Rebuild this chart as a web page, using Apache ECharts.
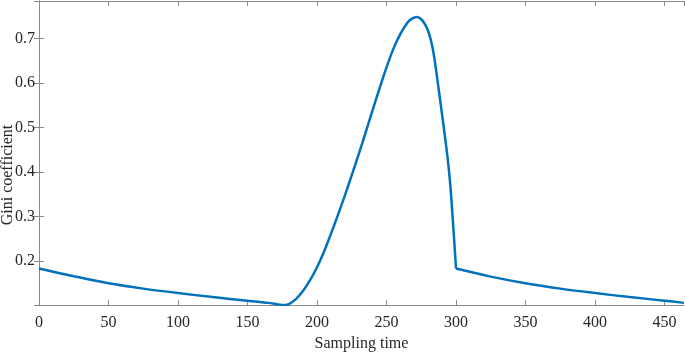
<!DOCTYPE html>
<html>
<head>
<meta charset="utf-8">
<script src="https://cdn.jsdelivr.net/npm/echarts@6/dist/echarts.min.js"></script>
<style>
  html, body { margin: 0; padding: 0; background: #fff; }
  #chart { width: 685px; height: 357px; }
</style>
</head>
<body>
<div id="chart"></div>
<script>
// 采样时刻与对应的基尼系数，300 处曲线有尖角，所以分两段
const riseTimes = [
  0, 25, 50, 75, 100, 125, 150, 165, 176,
  180, 185, 190, 195, 200, 205, 210, 215, 220, 225, 230, 235, 240, 245, 250,
  255, 260, 265, 268, 272, 275, 278, 280, 282, 284, 287, 290, 292, 294, 296, 298, 300
]
const riseValues = [
  0.183, 0.166, 0.150, 0.138, 0.128, 0.119, 0.111, 0.106, 0.101,
  0.104, 0.115, 0.133, 0.157, 0.186, 0.221, 0.261, 0.303, 0.347, 0.393, 0.440, 0.489, 0.539, 0.588, 0.635,
  0.677, 0.710, 0.735, 0.744, 0.748, 0.743, 0.730, 0.716, 0.695, 0.664, 0.598, 0.528, 0.480, 0.430, 0.366, 0.278, 0.183
]
const tailTimes = [300, 325, 350, 375, 400, 425, 450, 464]
const tailValues = [0.183, 0.165, 0.150, 0.138, 0.128, 0.119, 0.111, 0.106]

const xRange = [0, 464]
const yRange = [0.101, 0.784]

const axisColor = '#8a8a8a'
const textColor = '#262626'
const lineColor = '#0072BD'
const fontFamily = '"Liberation Serif", "Times New Roman", serif'

let chart = echarts.init(document.getElementById('chart'), null, { renderer: 'canvas' })

function boxAxis(position) {
  return {
    type: 'value',
    position: position,
    axisLine: { show: true, lineStyle: { color: axisColor, width: 1 } },
    axisTick: { show: true, inside: true, length: 5, lineStyle: { color: axisColor } },
    axisLabel: { show: false },
    splitLine: { show: false },
  }
}

let option = {
  animation: false,
  backgroundColor: '#fff',
  grid: {
    left: 39,
    right: 1,
    top: 1,
    bottom: 46,
    show: false,
  },
  xAxis: [
    {
      type: 'value',
      min: xRange[0],
      max: xRange[1],
      interval: 50,
      name: 'Sampling time',
      nameLocation: 'middle',
      nameGap: 30,
      nameTextStyle: { color: textColor, fontSize: 16, fontFamily: fontFamily },
      axisLine: { show: true, lineStyle: { color: axisColor, width: 1 } },
      axisTick: { show: true, inside: true, length: 5, lineStyle: { color: axisColor } },
      axisLabel: {
        color: textColor,
        fontSize: 16,
        fontFamily: fontFamily,
        margin: 10,
        showMaxLabel: false,
      },
      splitLine: { show: false },
    },
    Object.assign(boxAxis('top'), { min: xRange[0], max: xRange[1], interval: 50 }),
  ],
  yAxis: [
    {
      type: 'value',
      min: yRange[0],
      max: yRange[1],
      minInterval: 0.1,
      maxInterval: 0.1,
      axisLine: { show: true, lineStyle: { color: axisColor, width: 1 } },
      axisTick: { show: true, inside: true, length: 5, lineStyle: { color: axisColor } },
      axisLabel: {
        color: textColor,
        fontSize: 16,
        fontFamily: fontFamily,
        margin: 4,
        showMinLabel: false,
        showMaxLabel: false,
        formatter: (v) => v.toFixed(1),
      },
      splitLine: { show: false },
    },
    Object.assign(boxAxis('right'), {
      min: yRange[0],
      max: yRange[1],
      minInterval: 0.1,
      maxInterval: 0.1,
    }),
  ],
  graphic: [
    {
      type: 'text',
      x: 8,
      y: 175,
      rotation: Math.PI / 2,
      style: {
        text: 'Gini coefficient',
        fill: textColor,
        font: '16px ' + fontFamily,
        align: 'center',
        verticalAlign: 'middle',
      },
    },
  ],
  series: [
    {
      type: 'line',
      data: riseTimes.map((t, i) => [t, riseValues[i]]),
      showSymbol: false,
      smooth: 0.3,
      lineStyle: { color: lineColor, width: 2.5 },
    },
    {
      type: 'line',
      data: tailTimes.map((t, i) => [t, tailValues[i]]),
      showSymbol: false,
      smooth: 0.3,
      lineStyle: { color: lineColor, width: 2.5 },
    },
  ],
}

chart.setOption(option, true)
</script>
</body>
</html>
